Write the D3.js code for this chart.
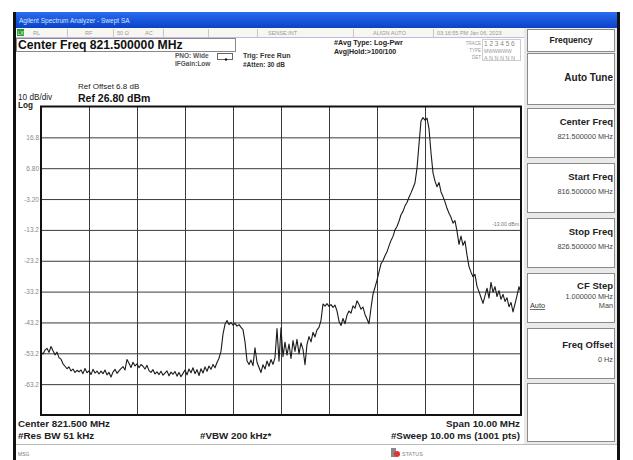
<!DOCTYPE html>
<html><head><meta charset="utf-8">
<script src="https://cdn.jsdelivr.net/npm/d3@7"></script>
<style>
html,body{margin:0;padding:0;background:#fff;}
svg{display:block;font-family:"Liberation Sans",Arial,sans-serif;}
</style></head>
<body>
<svg id="c" width="633" height="460"></svg>
<script>
// ---- data ----
const startFreq = 816.5;   // MHz
const stopFreq = 826.5;    // MHz
const refLevel = 26.8;     // dBm
const dbPerDiv = 10;
const freqGrid = [817.5, 818.5, 819.5, 820.5, 821.5, 822.5, 823.5, 824.5, 825.5];
const levelTicks = [16.8, 6.8, -3.2, -13.2, -23.2, -33.2, -43.2, -53.2, -63.2];
const levelTickLabels = ["16.8", "6.80", "-3.20", "-13.2", "-23.2", "-33.2", "-43.2", "-53.2", "-63.2"];
// trace amplitude (dBm), evenly spaced across the span
const traceDbm = [
 -52.8,-53.4,-52.2,-51.6,-52.9,-51.0,-52.4,-53.7,-52.8,-54.6,
 -55.1,-56.6,-57.4,-58.2,-57.6,-58.9,-58.3,-59.4,-58.7,-59.2,
 -58.6,-59.8,-58.1,-59.5,-58.9,-60.1,-58.4,-59.6,-59.0,-59.9,
 -59.0,-59.8,-58.6,-60.2,-59.4,-60.9,-59.3,-58.4,-59.7,-58.9,
 -58.2,-57.5,-58.6,-55.2,-56.4,-57.8,-56.1,-57.3,-56.6,-57.9,
 -56.8,-57.4,-58.3,-57.1,-58.8,-59.4,-58.5,-59.9,-59.2,-60.1,
 -59.0,-60.3,-59.6,-58.9,-60.5,-59.3,-60.0,-59.1,-60.6,-59.4,
 -60.8,-59.7,-58.6,-60.2,-58.3,-59.5,-57.9,-59.8,-58.5,-60.4,
 -58.2,-59.6,-57.6,-59.0,-57.3,-58.4,-56.8,-57.9,-56.2,-54.8,
 -52.5,-47.0,-43.8,-42.6,-43.9,-43.2,-44.1,-43.5,-44.4,-43.9,
 -44.8,-45.5,-49.5,-55.6,-56.8,-55.4,-57.2,-51.4,-56.1,-57.8,
 -59.4,-56.9,-58.3,-55.7,-57.4,-55.2,-56.8,-54.6,-45.2,-55.8,
 -44.9,-54.3,-49.6,-53.8,-50.2,-54.9,-49.1,-52.6,-48.7,-53.4,
 -49.8,-51.9,-56.9,-50.3,-47.8,-49.5,-46.4,-47.9,-45.6,-44.8,
 -42.5,-37.2,-37.9,-37.1,-38.0,-37.4,-38.3,-37.6,-39.5,-42.8,
 -44.2,-41.9,-43.6,-40.8,-39.5,-40.2,-37.8,-38.6,-36.2,-37.4,
 -38.9,-38.2,-40.6,-42.1,-43.6,-38.5,-34.0,-31.8,-29.5,-26.8,
 -24.2,-23.1,-21.6,-20.3,-18.4,-16.6,-15.3,-13.2,-12.1,-10.4,
 -8.3,-7.2,-5.4,-4.3,-2.6,-1.2,0.4,2.1,6.8,14.6,
 22.1,23.2,22.4,23.0,19.6,11.8,5.3,2.6,0.8,2.2,
 -0.9,-2.4,-4.1,-6.2,-7.8,-9.1,-11.0,-10.2,-13.6,-17.9,
 -15.2,-18.2,-16.8,-21.4,-25.1,-26.9,-28.4,-27.6,-31.5,-33.2,
 -35.1,-37.0,-34.6,-32.1,-35.3,-30.2,-33.4,-31.6,-34.8,-32.9,
 -35.7,-34.1,-36.4,-35.2,-38.1,-36.7,-39.8,-37.2,-34.5,-31.6,
 -33.8
];
const softkeys = [
  {title:"Center Freq", value:"821.500000 MHz"},
  {title:"Start Freq", value:"816.500000 MHz"},
  {title:"Stop Freq", value:"826.500000 MHz"}
];

// ---- layout ----
const svg = d3.select("#c");
const P = {l:41, r:521, t:106.5, b:415};
const x = d3.scaleLinear().domain([startFreq, stopFreq]).range([P.l, P.r]);
const y = d3.scaleLinear().domain([refLevel - 10*dbPerDiv, refLevel]).range([P.b, P.t]);
const step = (stopFreq - startFreq) / (traceDbm.length - 1);

// screen frame
svg.append("rect").attr("x",14).attr("y",12).attr("width",606).attr("height",448).attr("fill","#fff");
const grad = svg.append("defs").append("linearGradient").attr("id","tb").attr("x1",0).attr("x2",0).attr("y1",0).attr("y2",1);
grad.append("stop").attr("offset","0").attr("stop-color","#2a6cf0");
grad.append("stop").attr("offset","1").attr("stop-color","#0a42c8");
svg.append("rect").attr("x",14).attr("y",12).attr("width",606).attr("height",16).attr("fill","url(#tb)");
svg.append("text").attr("x",19).attr("y",23).attr("font-size",6.5).attr("fill","#d8e4ff").text("Agilent Spectrum Analyzer - Swept SA");
// status row
svg.append("rect").attr("x",16).attr("y",28).attr("width",508).attr("height",9).attr("fill","#f7f7f2");
svg.append("line").attr("x1",16).attr("x2",524).attr("y1",37.5).attr("y2",37.5).attr("stroke","#c9b6e6");
[67,113,163,208,257,353,433].forEach(s=>svg.append("line").attr("x1",s+.5).attr("x2",s+.5).attr("y1",29).attr("y2",37).attr("stroke","#c8c8c8"));
svg.append("rect").attr("x",17).attr("y",29).attr("width",7).attr("height",7).attr("fill","#2e9a2e");
svg.append("text").attr("x",17.5).attr("y",35).attr("font-size",5).attr("fill","#dfd").text("LXI");
const st = [[33,"RL"],[85,"RF"],[117,"50 Ω"],[145,"AC"],[268,"SENSE:INT"],[373,"ALIGN AUTO"],[437,"03:16:55 PM Jan 06, 2023"]];
st.forEach(d=>svg.append("text").attr("x",d[0]).attr("y",35).attr("font-size",5.5).attr("fill","#999").text(d[1]));
svg.append("rect").attr("x",13).attr("y",12).attr("width",3).attr("height",448).attr("fill","#111");
svg.append("rect").attr("x",617).attr("y",12).attr("width",3).attr("height",448).attr("fill","#111");

// header texts
svg.append("rect").attr("x",16.5).attr("y",38.5).attr("width",219).attr("height",13).attr("fill","none").attr("stroke","#888");
svg.append("text").attr("x",18).attr("y",49).attr("font-size",12.2).attr("font-weight","bold").attr("fill","#111").text("Center Freq 821.500000 MHz");
const hb = (xx,yy,fs,t,col,anchor)=>svg.append("text").attr("x",xx).attr("y",yy).attr("font-size",fs).attr("font-weight","bold").attr("fill",col||"#222").attr("text-anchor",anchor||"start").text(t);
hb(175,58,6.5,"PNO: Wide","#555");
hb(175,66,6.5,"IFGain:Low","#555");
svg.append("rect").attr("x",217.5).attr("y",53.5).attr("width",15).attr("height",6).attr("fill","none").attr("stroke","#666");
svg.append("circle").attr("cx",226).attr("cy",59.5).attr("r",1.2).attr("fill","#111");
hb(243,58,7,"Trig: Free Run","#333");
hb(243,67,6.5,"#Atten: 30 dB","#333");
hb(334,45,7.2,"#Avg Type: Log-Pwr","#222");
hb(334,54,7,"Avg|Hold:>100/100","#222");
svg.append("text").attr("x",481).attr("y",45).attr("font-size",4.5).attr("fill","#999").attr("text-anchor","end").text("TRACE");
svg.append("text").attr("x",481).attr("y",52).attr("font-size",4.5).attr("fill","#999").attr("text-anchor","end").text("TYPE");
svg.append("text").attr("x",481).attr("y",59).attr("font-size",4.5).attr("fill","#999").attr("text-anchor","end").text("DET");
svg.append("rect").attr("x",482.5).attr("y",39.5).attr("width",38).attr("height",21).attr("fill","none").attr("stroke","#ccc");
svg.append("text").attr("x",484).attr("y",46).attr("font-size",6.5).attr("fill","#888").text("1 2 3 4 5 6");
svg.append("text").attr("x",484).attr("y",53).attr("font-size",5).attr("fill","#999").text("MWWWWW");
svg.append("text").attr("x",484).attr("y",60).attr("font-size",5.5).attr("fill","#999").text("A N N N N N");

svg.append("text").attr("x",78).attr("y",89).attr("font-size",8).attr("fill","#222").text("Ref Offset 6.8 dB");
svg.append("text").attr("x",18).attr("y",100).attr("font-size",8.2).attr("fill","#222").text("10 dB/div");
svg.append("text").attr("x",78).attr("y",101.5).attr("font-size",10.5).attr("font-weight","bold").attr("fill","#111").text("Ref 26.80 dBm");
svg.append("text").attr("x",18).attr("y",108).attr("font-size",8.2).attr("font-weight","bold").attr("fill","#222").text("Log");

// graticule
const g = svg.append("g");
g.append("rect").attr("x",P.l).attr("y",P.t).attr("width",P.r-P.l).attr("height",P.b-P.t).attr("fill","#fff");
const gx = g.append("g").attr("transform",`translate(0,${P.b})`)
  .call(d3.axisBottom(x).tickValues(freqGrid).tickSize(-(P.b-P.t)).tickFormat(""));
const gy = g.append("g").attr("transform",`translate(${P.l},0)`)
  .call(d3.axisLeft(y).tickValues(levelTicks).tickSize(-(P.r-P.l)).tickFormat((d,i)=>levelTickLabels[i]).tickPadding(2));
[gx,gy].forEach(a=>{a.select(".domain").remove(); a.selectAll(".tick line").attr("stroke","#3a3a3a").attr("stroke-width",1);});
gy.selectAll(".tick text").attr("font-size",6.5).attr("fill","#888").attr("font-family","'Liberation Sans',Arial,sans-serif");

// trace
const line = d3.line().x((d,i)=>x(startFreq + i*step)).y(d=>y(d));
g.append("path").datum(traceDbm).attr("d",line).attr("fill","none").attr("stroke","#1a1a1a").attr("stroke-width",1.1).attr("stroke-linejoin","round");
g.append("rect").attr("x",P.l).attr("y",P.t).attr("width",P.r-P.l).attr("height",P.b-P.t).attr("fill","none").attr("stroke","#111").attr("stroke-width",2);
svg.append("text").attr("x",519).attr("y",226).attr("font-size",5.2).attr("fill","#777").attr("text-anchor","end").text("-13.00 dBm");

// bottom annotations
hb(18,427,9.8,"Center 821.500 MHz","#222");
hb(18,439,9.8,"#Res BW 51 kHz","#222");
hb(200,439,9.8,"#VBW 200 kHz*","#222");
hb(520,427,9.8,"Span 10.00 MHz","#222","end");
hb(520,439,9.8,"#Sweep  10.00 ms (1001 pts)","#222","end");
svg.append("line").attr("x1",16).attr("x2",617).attr("y1",444.5).attr("y2",444.5).attr("stroke","#bbb");
svg.append("text").attr("x",18).attr("y",456).attr("font-size",5).attr("fill","#777").text("MSG");
svg.append("rect").attr("x",391).attr("y",448).attr("width",5).attr("height",9).attr("fill","#888");
svg.append("circle").attr("cx",397).attr("cy",454).attr("r",3).attr("fill","#d33");
svg.append("text").attr("x",402).attr("y",456).attr("font-size",5.5).attr("fill","#888").text("STATUS");

// softkey panel
const sk = svg.append("g");
sk.append("rect").attr("x",524).attr("y",28).attr("width",93).attr("height",416).attr("fill","#e9e9e9");
const btn = (yy,h)=>sk.append("rect").attr("x",527.5).attr("y",yy+.5).attr("width",87).attr("height",h).attr("fill","#fff").attr("stroke","#8a8a8a");
btn(29,22); btn(53,51);
const tops = [108,163,218];
softkeys.forEach((k,i)=>{
  btn(tops[i],49);
  sk.append("text").attr("x",613).attr("y",tops[i]+17).attr("font-size",9.5).attr("font-weight","bold").attr("fill","#222").attr("text-anchor","end").text(k.title);
  sk.append("text").attr("x",613).attr("y",tops[i]+31).attr("font-size",7.3).attr("fill","#444").attr("text-anchor","end").text(k.value);
});
btn(273,49); btn(328,50); btn(383,58);
sk.append("text").attr("x",571).attr("y",43).attr("font-size",8.5).attr("font-weight","bold").attr("fill","#222").attr("text-anchor","middle").text("Frequency");
sk.append("text").attr("x",613).attr("y",81).attr("font-size",10).attr("font-weight","bold").attr("fill","#222").attr("text-anchor","end").text("Auto Tune");
sk.append("text").attr("x",613).attr("y",289).attr("font-size",9.5).attr("font-weight","bold").attr("fill","#222").attr("text-anchor","end").text("CF Step");
sk.append("text").attr("x",613).attr("y",299).attr("font-size",7.3).attr("fill","#444").attr("text-anchor","end").text("1.000000 MHz");
sk.append("text").attr("x",530).attr("y",308).attr("font-size",7.3).attr("fill","#333").attr("text-decoration","underline").text("Auto");
sk.append("text").attr("x",613).attr("y",308).attr("font-size",7.3).attr("fill","#444").attr("text-anchor","end").text("Man");
sk.append("text").attr("x",613).attr("y",348).attr("font-size",9.5).attr("font-weight","bold").attr("fill","#222").attr("text-anchor","end").text("Freq Offset");
sk.append("text").attr("x",613).attr("y",362).attr("font-size",7.3).attr("fill","#444").attr("text-anchor","end").text("0 Hz");
</script>
</body></html>
